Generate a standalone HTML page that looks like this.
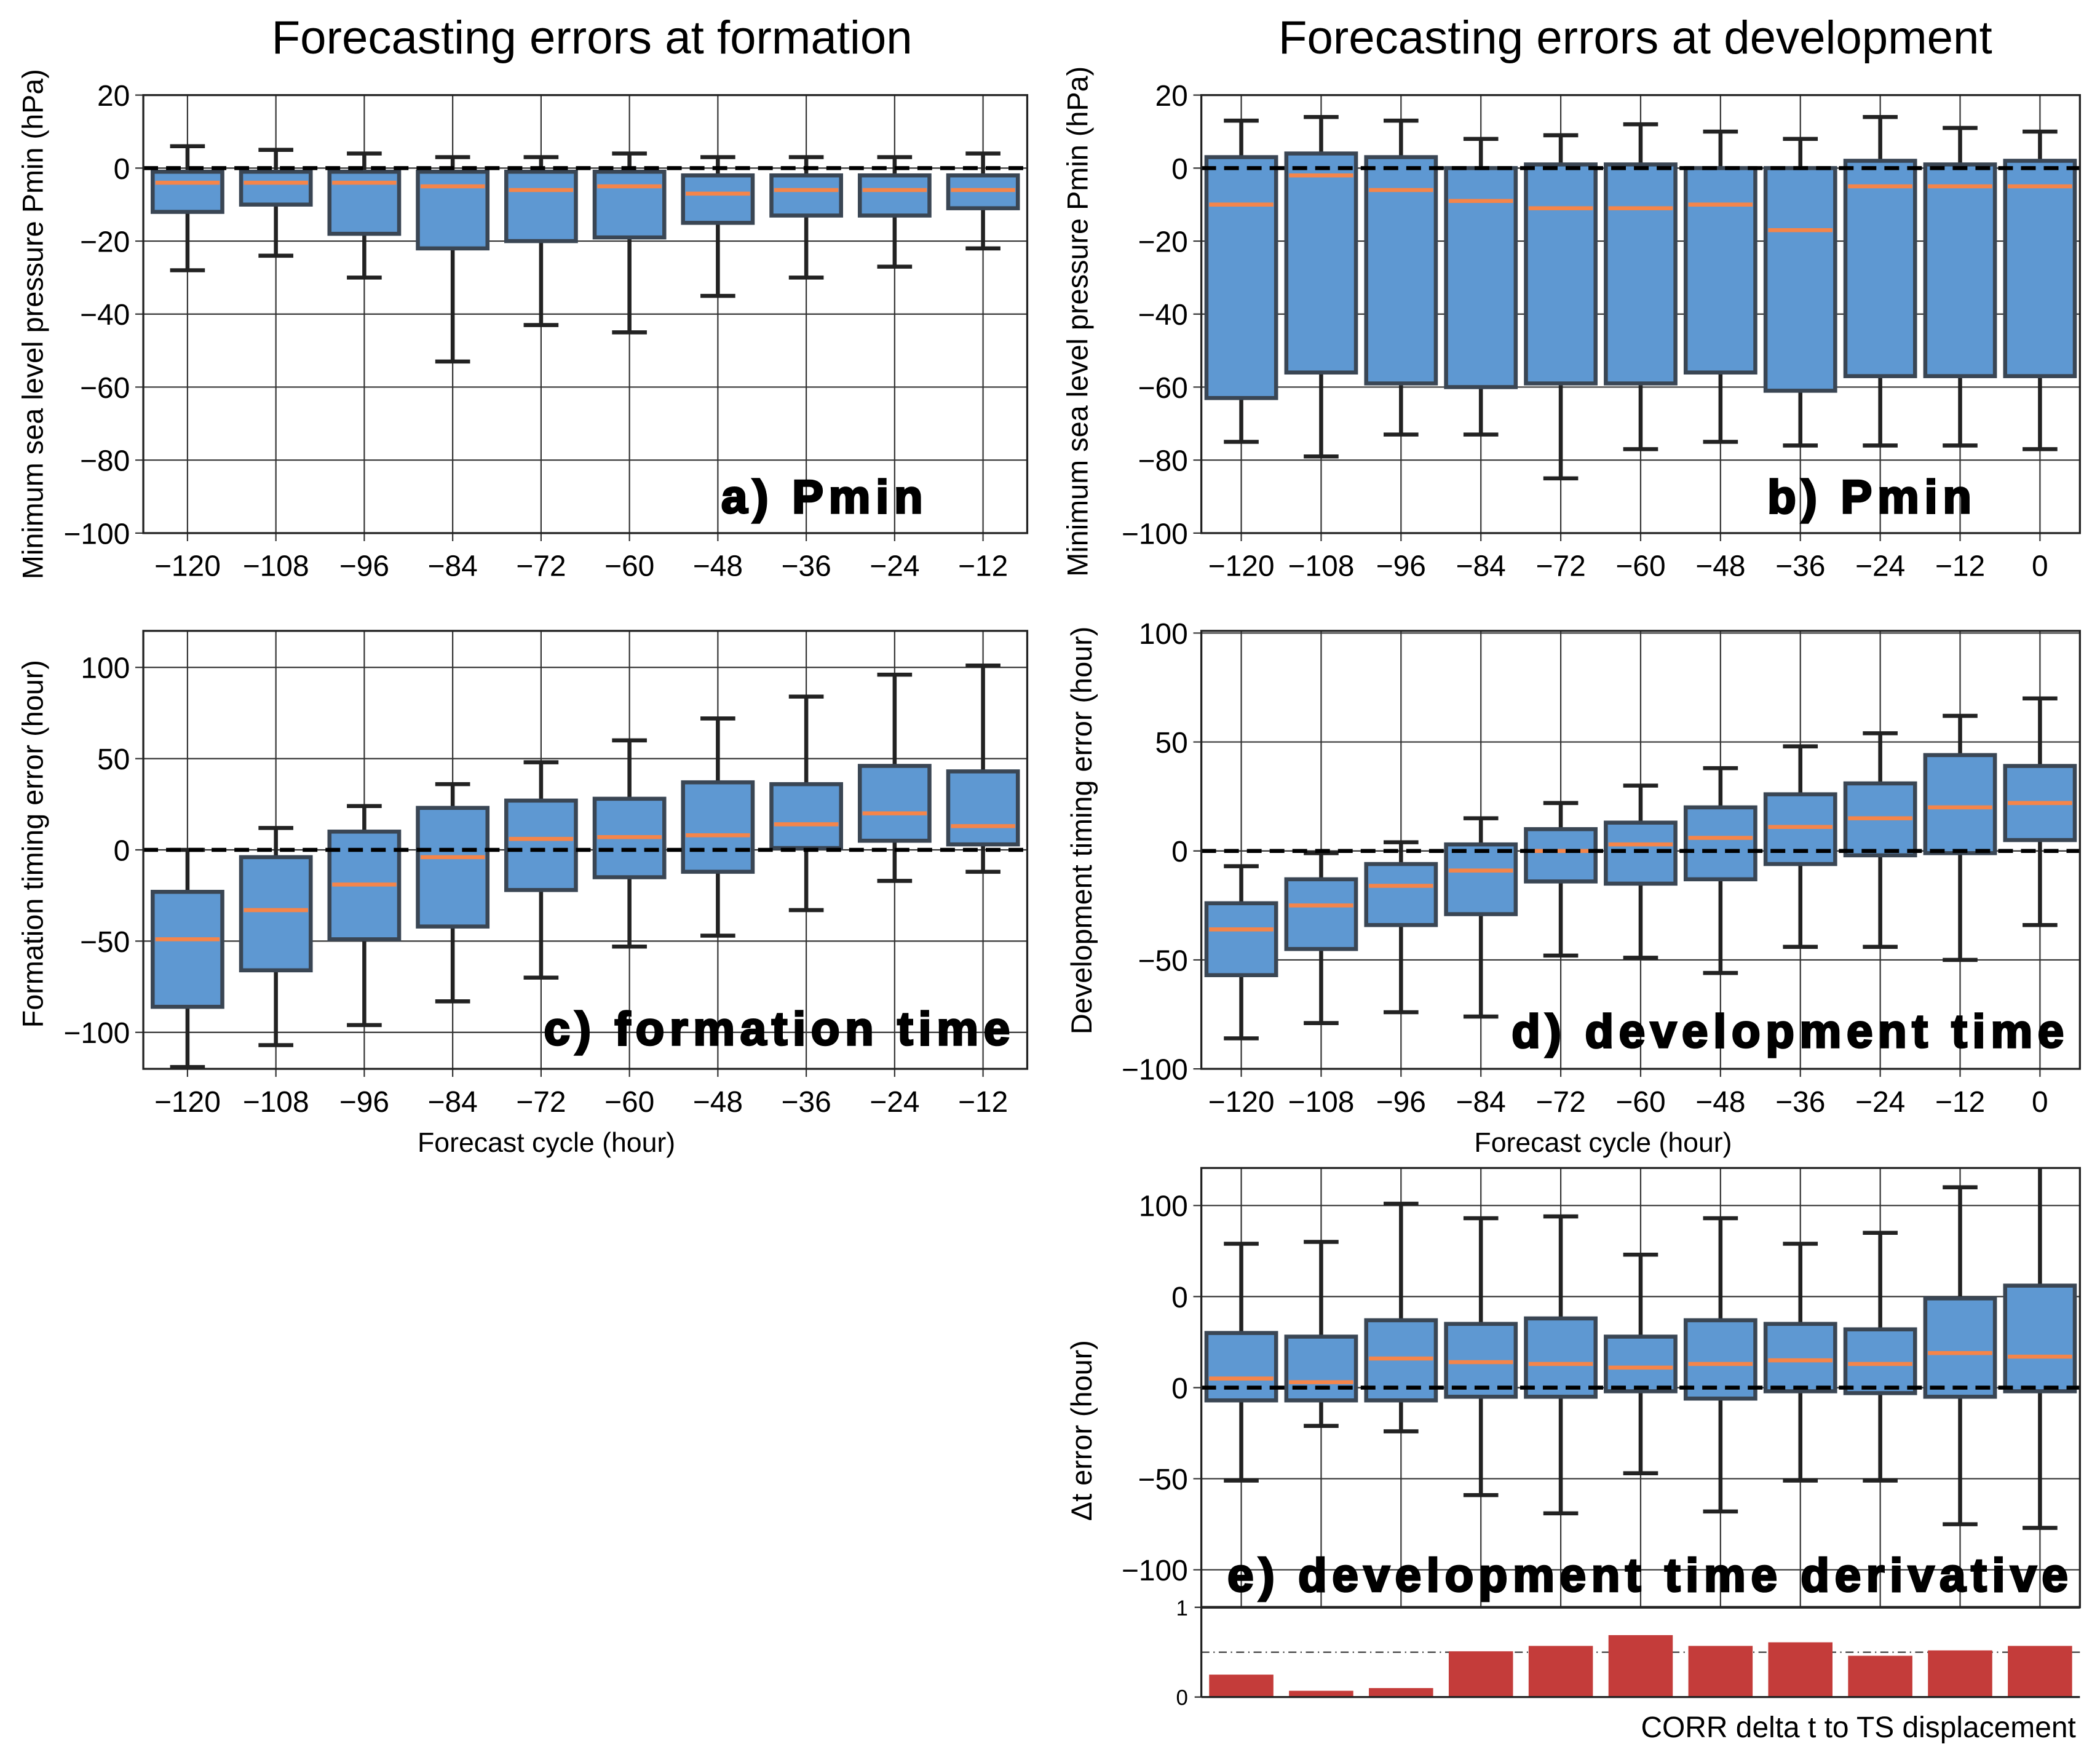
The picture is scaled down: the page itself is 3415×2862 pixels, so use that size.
<!DOCTYPE html>
<html><head><meta charset="utf-8"><style>
html,body{margin:0;padding:0;background:#fff}
svg{display:block}
text{font-family:"Liberation Sans","DejaVu Sans",sans-serif}
</style></head><body>
<svg id="s" xmlns="http://www.w3.org/2000/svg" width="3415" height="2862" viewBox="0 0 1568 1314" preserveAspectRatio="none">
<text x="442" y="40" font-size="35" text-anchor="middle">Forecasting errors at formation</text>
<text x="1221" y="40" font-size="35" text-anchor="middle">Forecasting errors at development</text>
</svg>
<script>
const catsA=["-120","-108","-96","-84","-72","-60","-48","-36","-24","-12"];
const catsB=["-120","-108","-96","-84","-72","-60","-48","-36","-24","-12","0"];
// panel a
const aLo=[-28,-24,-30,-53,-43,-45,-35,-30,-27,-22];
const aQ1=[-12,-10,-18,-22,-20,-19,-15,-13,-13,-11];
const aMed=[-4,-4,-4,-5,-6,-5,-7,-6,-6,-6];
const aQ3=[-1,-1,-1,-1,-1,-1,-2,-2,-2,-2];
const aHi=[6,5,4,3,3,4,3,3,3,4];
// panel b
const bLo=[-75,-79,-73,-73,-85,-77,-75,-76,-76,-76,-77];
const bQ1=[-63,-56,-59,-60,-59,-59,-56,-61,-57,-57,-57];
const bMed=[-10,-2,-6,-9,-11,-11,-10,-17,-5,-5,-5];
const bQ3=[3,4,3,0,1,1,0,0,2,1,2];
const bHi=[13,14,13,8,9,12,10,8,14,11,10];
// panel c
const cLo=[-119,-107,-96,-83,-70,-53,-47,-33,-17,-12];
const cQ1=[-86,-66,-49,-42,-22,-15,-12,1,5,3];
const cMed=[-49,-33,-19,-4,6,7,8,14,20,13];
const cQ3=[-23,-4,10,23,27,28,37,36,46,43];
const cHi=[0,12,24,36,48,60,72,84,96,101];
// panel d
const dLo=[-86,-79,-74,-76,-48,-49,-56,-44,-44,-50,-34];
const dQ1=[-57,-45,-34,-29,-14,-15,-13,-6,-2,-1,5];
const dMed=[-36,-25,-16,-9,0,3,6,11,15,20,22];
const dQ3=[-24,-13,-6,3,10,13,20,26,31,44,39];
const dHi=[-7,-1,4,15,22,30,38,48,54,62,70];
// panel e
const eLo=[-51,-21,-24,-59,-69,-47,-68,-51,-51,-75,-77];
const eQ1=[-7,-7,-7,-5,-5,-2,-6,-2,-3,-5,-2];
const eMed=[5,3,16,14,13,11,13,15,13,19,17];
const eQ3=[30,28,37,35,38,28,37,35,32,49,56];
const eHi=[79,80,101,93,94,73,93,79,85,110,125];
const eTicks=[100,50,0,-50,-100];
const eTickLabels=["100","0","0","\u221250","\u2212100"];
// correlation bars
const corr=[0.25,0.07,0.1,0.51,0.57,0.69,0.57,0.61,0.46,0.52,0.57];

const NS="http://www.w3.org/2000/svg";
const svg=document.getElementById('s');
function mk(tag,attrs,parent){const e=document.createElementNS(NS,tag);for(const k in attrs)e.setAttribute(k,attrs[k]);(parent||svg).appendChild(e);return e;}
function fmt(v){return v<0?"\u2212"+Math.abs(v):String(v);}

function panel(o){
  const g=mk('g',{});
  
  
  const n=o.cats.length, w=(o.x1-o.x0)/n;
  const X=i=>o.x0+w*(i+0.5);
  const Y=v=>o.y1-(v-o.ymin)/(o.ymax-o.ymin)*(o.y1-o.y0);
  o.ticks.forEach((t,i)=>{
    const y=Y(t);
    const l=mk('line',{x1:o.x0-6,x2:o.x1,y1:y,y2:y,stroke:'#333','stroke-width':1},g);
    
    
    const tx=mk('text',{x:o.x0-10,y:y+8,'font-size':22,'text-anchor':'end'},g);
    
    
    tx.textContent=o.tickLabels?o.tickLabels[i]:fmt(t);
  });
  o.cats.forEach((c,i)=>{
    const l=mk('line',{x1:X(i),x2:X(i),y1:o.y0,y2:o.y1+(o.noXLabels?0:6),stroke:'#333','stroke-width':1},g);
    
    
    if(!o.noXLabels){
      const tx=mk('text',{x:X(i),y:o.y1+32,'font-size':22,'text-anchor':'middle'},g);
      
      
      tx.textContent=c.replace('-','\u2212');
    }
  });
  const bw=52, cw=26;
  o.cats.forEach((c,i)=>{
    const x=X(i);
    const bg=mk('g',{},g);
    
    
    const top=Math.max(Y(o.hi[i]),o.y0);
    mk('line',{x1:x,x2:x,y1:top,y2:Y(o.lo[i]),stroke:'#222','stroke-width':3},bg);
    if(Y(o.hi[i])>=o.y0) mk('line',{x1:x-cw/2,x2:x+cw/2,y1:Y(o.hi[i]),y2:Y(o.hi[i]),stroke:'#222','stroke-width':3},bg);
    mk('line',{x1:x-cw/2,x2:x+cw/2,y1:Y(o.lo[i]),y2:Y(o.lo[i]),stroke:'#222','stroke-width':3},bg);
    mk('rect',{x:x-bw/2,y:Y(o.q3[i]),width:bw,height:Y(o.q1[i])-Y(o.q3[i]),fill:'#5e98d2',stroke:'#3a4654','stroke-width':3},bg);
    mk('line',{x1:x-bw/2+2,x2:x+bw/2-2,y1:Y(o.med[i]),y2:Y(o.med[i]),stroke:'#f5854a','stroke-width':3},bg);
  });
  const z=mk('line',{x1:o.x0,x2:o.x1,y1:Y(0),y2:Y(0),stroke:'#000','stroke-width':3,'stroke-dasharray':'11,6'},g);
  
  
  mk('rect',{x:o.x0,y:o.y0,width:o.x1-o.x0,height:o.y1-o.y0,fill:'none',stroke:'#222','stroke-width':1.5},g);
  const yl=mk('text',{x:0,y:0,'font-size':21.5,'text-anchor':'middle',transform:`translate(${o.ylx},${o.yly}) rotate(-90)`},g);
  
  
  yl.textContent=o.ylabel;
  const pl=mk('text',{x:o.lx,y:o.ly,'font-size':35,'font-weight':'bold','text-anchor':'end',stroke:'#000','stroke-width':1.6,fill:'#000','letter-spacing':'4'},g);
  
  
  pl.textContent=o.label;
  if(o.xlabel){
    const xl=mk('text',{x:o.xlc,y:o.y1+62,'font-size':20.5,'text-anchor':'middle'},g);
    
    
    xl.textContent=o.xlabel;
  }
}
panel({name:'panel-a-pmin',cats:catsA,x0:107,x1:767,y0:71,y1:398,ymin:-100,ymax:20,ticks:[20,0,-20,-40,-60,-80,-100],lo:aLo,q1:aQ1,med:aMed,q3:aQ3,hi:aHi,ylabel:'Minimum sea level pressure Pmin (hPa)',ylx:32,yly:242,label:'a) Pmin',lx:693,ly:383});
panel({name:'panel-b-pmin',cats:catsB,x0:897,x1:1553,y0:71,y1:398,ymin:-100,ymax:20,ticks:[20,0,-20,-40,-60,-80,-100],lo:bLo,q1:bQ1,med:bMed,q3:bQ3,hi:bHi,ylabel:'Minimum sea level pressure Pmin (hPa)',ylx:812,yly:240,label:'b) Pmin',lx:1476,ly:383});
panel({name:'panel-c-formation-time',cats:catsA,x0:107,x1:767,y0:471,y1:798,ymin:-120,ymax:120,ticks:[100,50,0,-50,-100],lo:cLo,q1:cQ1,med:cMed,q3:cQ3,hi:cHi,ylabel:'Formation timing error (hour)',ylx:32,yly:630,label:'c) formation time',lx:758,ly:780,xlabel:'Forecast cycle (hour)',xlc:408});
panel({name:'panel-d-development-time',cats:catsB,x0:897,x1:1553,y0:471,y1:798,ymin:-100,ymax:101,ticks:[100,50,0,-50,-100],lo:dLo,q1:dQ1,med:dMed,q3:dQ3,hi:dHi,ylabel:'Development timing error (hour)',ylx:815,yly:620,label:'d) development time',lx:1545,ly:782,xlabel:'Forecast cycle (hour)',xlc:1197});
panel({name:'panel-e-derivative',cats:catsB,x0:897,x1:1553,y0:872,y1:1200,ymin:-120.6,ymax:120.6,ticks:eTicks,tickLabels:eTickLabels,lo:eLo,q1:eQ1,med:eMed,q3:eQ3,hi:eHi,ylabel:'\u0394t error (hour)',ylx:815,yly:1068,label:'e) development time derivative',lx:1548,ly:1188,noXLabels:true});

(function(){
  const g=mk('g',{});
  
  
  const x0=897,x1=1553,y0=1200,y1=1267,n=catsB.length,w=(x1-x0)/n;
  const Y=v=>y1-v*(y1-y0);
  mk('line',{x1:x0,x2:x1,y1:Y(0.5),y2:Y(0.5),stroke:'#333','stroke-width':1,'stroke-dasharray':'6,3,1,3'},g);
  corr.forEach((v,i)=>{
    const r=mk('rect',{x:x0+w*(i+0.5)-24,y:Y(v),width:48,height:Y(0)-Y(v),fill:'#c43c3a'},g);
    
    
  });
  mk('line',{x1:x0,x2:x0,y1:y0,y2:y1,stroke:'#222','stroke-width':1.5},g);
  mk('line',{x1:x0,x2:x1,y1:y1,y2:y1,stroke:'#222','stroke-width':1.5},g);
  mk('line',{x1:x0,x2:x1,y1:y0,y2:y0,stroke:'#222','stroke-width':2},g);
  [[1,'1'],[0,'0']].forEach(([v,l])=>{
    const t=mk('text',{x:x0-10,y:Y(v)+6,'font-size':16,'text-anchor':'end'},g);
    
    
    t.textContent=l;
    mk('line',{x1:x0-5,x2:x0,y1:Y(v),y2:Y(v),stroke:'#222','stroke-width':1},g);
  });
  const c=mk('text',{x:1550,y:1297,'font-size':22,'text-anchor':'end'},g);
  
  
  c.textContent='CORR  delta t to TS displacement';
})();
</script>
</body></html>
